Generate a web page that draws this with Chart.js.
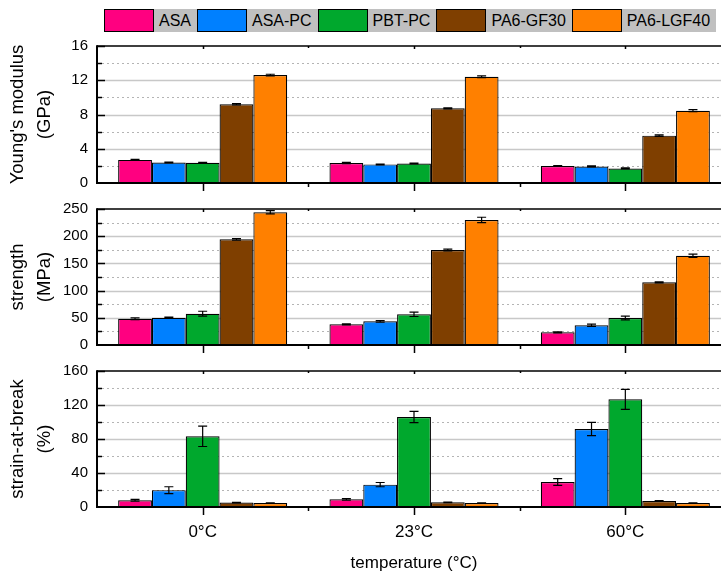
<!DOCTYPE html>
<html>
<head>
<meta charset="utf-8">
<script src="https://cdn.jsdelivr.net/npm/chart.js@4.4.0/dist/chart.umd.min.js"></script>
<style>
html, body { margin: 0; padding: 0; background: #fff; overflow: hidden; }
#wrap { position: relative; width: 721px; height: 575px; overflow: hidden; font-family: "Liberation Sans", Arial, sans-serif; }
#wrap canvas { position: absolute; left: 0; }
#legend { position: absolute; left: 104px; top: 9px; height: 23px; display: flex; white-space: nowrap; }
.sw { width: 50px; height: 23px; box-sizing: border-box; border: 1.5px solid #000; }
.lb { height: 23px; line-height: 23px; background: #c0c0c0; padding: 0 6px 0 5px; font-size: 16px; color: #000; }
</style>
</head>
<body>
<div id="wrap">
  <div id="legend"></div>
  <canvas id="modulusChart" width="731" height="161"></canvas>
  <canvas id="strengthChart" width="731" height="160"></canvas>
  <canvas id="strainChart" width="731" height="216"></canvas>
</div>
<script>
// カテゴリと材料
const temperatures = ['0°C', '23°C', '60°C'];
const materials = ['ASA', 'ASA-PC', 'PBT-PC', 'PA6-GF30', 'PA6-LGF40'];
const materialColors = ['#ff0080', '#0080ff', '#00a82d', '#7f3f00', '#ff8000'];

// ヤング率 (GPa)  材料ごと: 0°C, 23°C, 60°C
const modulusValues = [
    [2.7, 2.33, 1.98],
    [2.4, 2.17, 1.93],
    [2.36, 2.28, 1.70],
    [9.19, 8.72, 5.53],
    [12.6, 12.4, 8.44]
];
const modulusErrors = [
    [0.05, 0.08, 0.05],
    [0.04, 0.05, 0.06],
    [0.04, 0.05, 0.06],
    [0.08, 0.06, 0.08],
    [0.1, 0.1, 0.12]
];

// 強度 (MPa)
const strengthValues = [
    [48.3, 38.0, 23.3],
    [50.2, 43.5, 36.2],
    [57.5, 56.4, 49.6],
    [194.3, 174.6, 115.2],
    [243.9, 229.8, 164.2]
];
const strengthErrors = [
    [1.5, 1, 1],
    [1, 1.5, 2],
    [4.5, 4, 3.5],
    [1.5, 1.5, 1],
    [3, 5, 3]
];

// 破断ひずみ (%)
const strainValues = [
    [7.9, 9.0, 29.4],
    [19.8, 26.3, 91.8],
    [83.2, 105.9, 126.7],
    [5.2, 5.5, 7.1],
    [4.7, 4.7, 4.7]
];
const strainErrors = [
    [1, 1, 3.9],
    [4, 2.5, 7.8],
    [12, 6.7, 11.8],
    [0.3, 0.3, 0.3],
    [0.2, 0.2, 0.2]
];

Chart.defaults.font.family = '"Liberation Sans", Arial, sans-serif';
Chart.defaults.color = '#000';
Chart.defaults.animation = false;

// 凡例 (HTML)
const legendDiv = document.getElementById('legend');
materials.forEach((name, i) => {
    const sw = document.createElement('div');
    sw.className = 'sw';
    sw.style.background = materialColors[i];
    const lb = document.createElement('div');
    lb.className = 'lb';
    lb.textContent = name;
    legendDiv.appendChild(sw);
    legendDiv.appendChild(lb);
});

// グリッド・目盛り・枠・エラーバーを描くプラグイン
const panelDecor = {
    id: 'panelDecor',
    beforeDatasetsDraw(chart) {
        const { ctx, chartArea: a, scales: { y } } = chart;
        const step = chart.options.scales.y.ticks.stepSize;
        ctx.save();
        for (let v = step / 2; v < y.max - 1e-9; v += step / 2) {
            const py = Math.round(y.getPixelForValue(v)) + 0.5;
            const major = Math.abs(v / step - Math.round(v / step)) < 1e-6;
            ctx.beginPath();
            ctx.lineWidth = major ? 1.5 : 1;
            ctx.strokeStyle = major ? '#c8c8c8' : '#b4b4b4';
            ctx.setLineDash(major ? [] : [2, 3]);
            ctx.moveTo(a.left, py);
            ctx.lineTo(a.right, py);
            ctx.stroke();
        }
        ctx.restore();
    },
    afterDatasetsDraw(chart) {
        const { ctx, chartArea: a, scales: { x, y } } = chart;
        const step = chart.options.scales.y.ticks.stepSize;
        ctx.save();
        ctx.strokeStyle = '#000';

        // エラーバー
        ctx.lineWidth = 1.2;
        chart.data.datasets.forEach((ds, i) => {
            chart.getDatasetMeta(i).data.forEach((bar, j) => {
                const e = ds.errors[j];
                const top = y.getPixelForValue(ds.data[j] + e);
                const bot = y.getPixelForValue(ds.data[j] - e);
                ctx.beginPath();
                ctx.moveTo(bar.x, top); ctx.lineTo(bar.x, bot);
                ctx.moveTo(bar.x - 4.5, top); ctx.lineTo(bar.x + 4.5, top);
                ctx.moveTo(bar.x - 4.5, bot); ctx.lineTo(bar.x + 4.5, bot);
                ctx.stroke();
            });
        });

        // y軸の目盛り (内向き)
        ctx.lineWidth = 1.5;
        for (let v = step / 2; v <= y.max + 1e-9; v += step / 2) {
            const py = Math.round(y.getPixelForValue(v)) + 0.5;
            const major = Math.abs(v / step - Math.round(v / step)) < 1e-6;
            ctx.beginPath();
            ctx.moveTo(a.left, py);
            ctx.lineTo(a.left + (major ? 8 : 5), py);
            ctx.stroke();
        }

        // x軸の目盛り
        const n = chart.data.labels.length;
        for (let i = 0; i < n; i++) {
            const cx = Math.round(x.getPixelForValue(i)) + 0.5;
            ctx.beginPath();
            ctx.moveTo(cx, a.bottom); ctx.lineTo(cx, a.bottom + 8);
            ctx.moveTo(cx, a.top); ctx.lineTo(cx, a.top + 3);
            ctx.stroke();
            if (i < n - 1) {
                const bx = Math.round((x.getPixelForValue(i) + x.getPixelForValue(i + 1)) / 2) + 0.5;
                ctx.beginPath();
                ctx.moveTo(bx, a.bottom); ctx.lineTo(bx, a.bottom + 4);
                ctx.moveTo(bx, a.top); ctx.lineTo(bx, a.top + 2);
                ctx.stroke();
            }
        }

        // 枠
        ctx.lineWidth = 1.5;
        ctx.beginPath();
        ctx.moveTo(a.left, a.top); ctx.lineTo(a.right, a.top);
        ctx.lineTo(a.right, a.bottom);
        ctx.stroke();
        ctx.lineWidth = 2;
        ctx.beginPath();
        ctx.moveTo(a.left, a.top - 0.75); ctx.lineTo(a.left, a.bottom);
        ctx.lineTo(a.right, a.bottom);
        ctx.stroke();
        ctx.restore();
    }
};

// パネル用の設定を作る関数
function buildConfig(values, errors, yMax, yStep, yTitle, showX) {
    const datasets = materials.map((name, i) => ({
        label: name,
        data: values[i],
        errors: errors[i],
        backgroundColor: materialColors[i],
        borderColor: '#000',
        borderWidth: 1.2,
        barPercentage: 1.0,
        categoryPercentage: 0.8
    }));

    const xAxis = {
        display: showX,
        grid: { display: false, drawTicks: false },
        border: { display: false },
        ticks: { font: { size: 17 }, padding: 15, color: '#000' },
        title: {
            display: showX,
            text: 'temperature (°C)',
            font: { size: 17 },
            color: '#000',
            padding: { top: 0, bottom: 1 }
        }
    };
    if (showX) {
        xAxis.afterFit = s => { s.height = 68; };
    }

    return {
        type: 'bar',
        data: { labels: temperatures, datasets: datasets },
        options: {
            responsive: false,
            maintainAspectRatio: false,
            layout: { padding: { top: 10, bottom: showX ? 0 : 10, left: 0, right: 0 } },
            plugins: { legend: { display: false }, tooltip: { enabled: false } },
            scales: {
                x: xAxis,
                y: {
                    min: 0,
                    max: yMax,
                    grid: { display: false, drawTicks: false },
                    border: { display: false },
                    ticks: { stepSize: yStep, font: { size: 15 }, padding: 9, color: '#000' },
                    title: {
                        display: true,
                        text: yTitle,
                        font: { size: 18.5, lineHeight: 1.45 },
                        color: '#000',
                        padding: { top: 4.5, bottom: 0 }
                    },
                    afterFit: s => { s.width = 97; }
                }
            }
        },
        plugins: [panelDecor]
    };
}

// パネルを作る関数 (areaTop, areaBottom: プロット領域の位置)
function makePanel(canvasId, values, errors, yMax, yStep, yTitle, showX, areaTop, areaBottom) {
    const canvas = document.getElementById(canvasId);
    // 一度描いて余白を測る
    let chart = new Chart(canvas, buildConfig(values, errors, yMax, yStep, yTitle, showX));
    const offTop = chart.chartArea.top;
    const offBottom = chart.height - chart.chartArea.bottom;
    chart.destroy();

    canvas.width = 731;
    canvas.height = Math.round(areaBottom - areaTop + offTop + offBottom);
    canvas.style.width = '731px';
    canvas.style.height = canvas.height + 'px';
    canvas.style.top = (areaTop - offTop) + 'px';
    chart = new Chart(canvas, buildConfig(values, errors, yMax, yStep, yTitle, showX));
}

makePanel('modulusChart', modulusValues, modulusErrors, 16, 4, ["Young's modulus", '(GPa)'], false, 46, 183);
makePanel('strengthChart', strengthValues, strengthErrors, 250, 50, ['strength', '(MPa)'], false, 209, 345);
makePanel('strainChart', strainValues, strainErrors, 160, 40, ['strain-at-break', '(%)'], true, 371, 507);
</script>
</body>
</html>
